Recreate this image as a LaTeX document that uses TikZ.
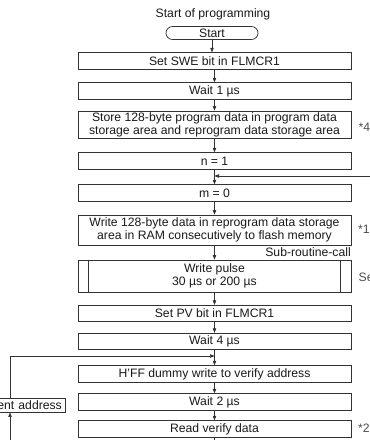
\documentclass[tikz,border=0pt]{standalone}
\usepackage{fontspec}
\setmainfont{Liberation Sans}
\usetikzlibrary{arrows.meta}
\newcommand\dfont{\fontsize{12.2}{13}\selectfont}
\begin{document}
\begin{tikzpicture}[x=1pt,y=-1pt,
  every node/.style={font=\dfont, text=black!90},
  pbox/.style={draw=black!80, line width=0.7pt, minimum width=273pt, minimum height=16.5pt, inner sep=0pt, align=center},
  term/.style={draw=black!80, line width=0.7pt, minimum width=92pt, minimum height=13pt, inner sep=0pt, rounded corners=6.5pt},
  conn/.style={draw=black!80, line width=0.6pt},
  arr/.style={conn, -{Triangle[length=4.5pt,width=3.4pt]}},
  note/.style={anchor=west, text=black!70, inner sep=0pt},
  plain/.style={inner sep=0pt}
]
\useasboundingbox (0,0) rectangle (370,440);
\node[plain] (title) at (213,14) {Start of programming};
\node[term] (start) at (212,33) {Start};
\node[pbox] (swe) at (214.5,61) {Set SWE bit in FLMCR1};
\node[pbox] (wait1) at (214.5,91) {Wait 1 µs};
\node[pbox, minimum height=27pt] (store) at (214.5,124.5) {Store 128-byte program data in program data\\storage area and reprogram data storage area};
\node[pbox] (n1) at (214.5,161) {n = 1};
\node[pbox] (m0) at (214.5,193) {m = 0};
\node[pbox, minimum height=30pt] (write) at (214.5,230) {Write 128-byte data in reprogram data storage\\area in RAM consecutively to flash memory};
\node[plain, anchor=base east] (src) at (351,256.5) {Sub-routine-call};
\node[pbox, minimum height=32pt] (pulse) at (214.5,276) {Write pulse\\30 µs or 200 µs};
\draw[conn] ([xshift=10.7pt]pulse.north west) -- ([xshift=10.7pt]pulse.south west);
\draw[conn] ([xshift=-10.7pt]pulse.north east) -- ([xshift=-10.7pt]pulse.south east);
\node[pbox] (setpv) at (214.5,313.5) {Set PV bit in FLMCR1};
\node[pbox] (wait4) at (214.5,341.5) {Wait 4 µs};
\node[pbox] (hff) at (214.5,374) {H'FF dummy write to verify address};
\node[pbox] (wait2) at (214.5,402) {Wait 2 µs};
\node[pbox] (rv) at (214.5,429) {Read verify data};
\node[draw=black!80, line width=0.7pt, anchor=east, minimum height=14pt, inner ysep=0pt, inner xsep=3.5pt, text width=100pt, align=right] (incr) at (65.7,405) {ent address};
\node[note] (n4) at (358.5,127) {*4};
\node[note] (n1note) at (358,229) {*1};
\node[note] (nse) at (358.5,277) {Se};
\node[note] (n2) at (358,428) {*2};
\coordinate (fb) at (370,176);
\coordinate (lp) at (10,356);
\coordinate (lb) at (10,440);
\coordinate (bot) at (214.5,440);
\draw[arr] (start) -- (start |- swe.north);
\draw[arr] (swe) -- (wait1);
\draw[arr] (wait1) -- (store);
\draw[arr] (store) -- (n1);
\draw[arr] (n1) -- (m0);
\draw[arr] (fb) -- (fb -| m0.north);
\draw[arr] (m0) -- (write);
\draw[arr] (write) -- (pulse);
\draw[arr] (pulse) -- (setpv);
\draw[arr] (setpv) -- (wait4);
\draw[arr] (wait4) -- (hff);
\draw[arr] (incr.north -| lp) -- (lp) -- (lp -| hff.north);
\draw[arr] (hff) -- (wait2);
\draw[arr] (wait2) -- (rv);
\draw[conn] (rv) -- (bot);
\draw[arr] (lb) -- (lb |- incr.south);
\end{tikzpicture}
\end{document}
